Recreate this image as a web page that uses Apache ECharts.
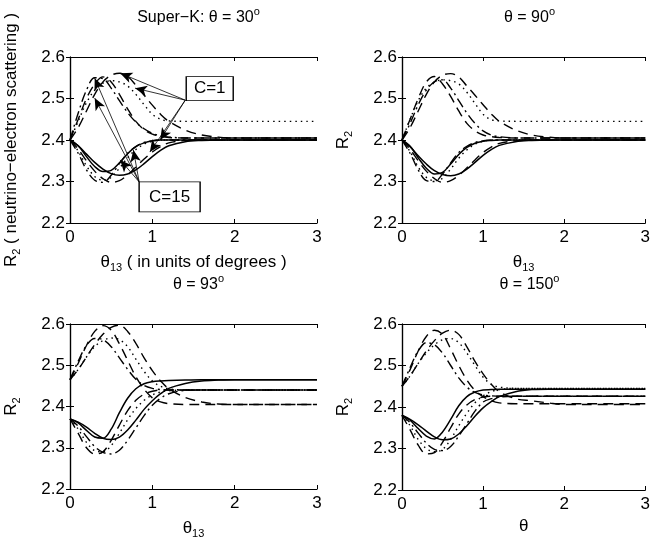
<!DOCTYPE html>
<html><head><meta charset="utf-8">
<script src="https://cdn.jsdelivr.net/npm/echarts@6/dist/echarts.min.js"></script>
<style>html,body{margin:0;padding:0;background:#fff}#c{width:653px;height:540px}</style>
</head><body><div id="c"></div>
<script>
// ---------- data ----------
const xs = [0,0.1,0.2,0.3,0.4,0.5,0.6,0.7,0.8,0.9,1.0,1.1,1.2,1.4,1.6,1.8,2.0,2.5,3.0];
const xTicks = [0,1,2,3];
const yTicks = [2.2,2.3,2.4,2.5,2.6];
const panelTitles = ['Super−K: θ = 30', 'θ = 90', 'θ = 93', 'θ = 150'];

// Panel 1: theta = 30 deg
const p1UpDash1   = [2.40,2.43,2.47,2.51,2.54,2.556,2.561,2.553,2.532,2.508,2.484,2.462,2.445,2.424,2.412,2.407,2.405,2.405,2.405];
const p1UpDash15  = [2.40,2.45,2.50,2.535,2.552,2.54,2.51,2.475,2.445,2.425,2.414,2.409,2.406,2.405,2.405,2.405,2.405,2.405,2.405];
const p1UpDashDot = [2.40,2.465,2.52,2.55,2.548,2.525,2.495,2.466,2.443,2.427,2.416,2.41,2.407,2.405,2.405,2.405,2.405,2.405,2.405];
const p1UpDot     = [2.40,2.445,2.49,2.52,2.537,2.543,2.54,2.53,2.51,2.485,2.462,2.45,2.446,2.445,2.445,2.445,2.445,2.445,2.445];
const p1LoSolid15 = [2.40,2.386,2.36,2.336,2.324,2.327,2.345,2.367,2.384,2.393,2.398,2.40,2.40,2.40,2.40,2.40,2.40,2.40,2.40];
const p1LoSolid1  = [2.40,2.386,2.366,2.346,2.33,2.319,2.315,2.318,2.328,2.343,2.36,2.375,2.386,2.396,2.399,2.40,2.40,2.40,2.40];
const p1LoDash    = [2.40,2.378,2.35,2.325,2.307,2.298,2.302,2.316,2.335,2.354,2.371,2.384,2.393,2.399,2.40,2.40,2.40,2.40,2.40];
const p1LoDashDot = [2.40,2.368,2.328,2.303,2.298,2.315,2.343,2.368,2.384,2.394,2.398,2.40,2.40,2.40,2.40,2.40,2.40,2.40,2.40];
const p1LoDot     = [2.40,2.373,2.338,2.312,2.303,2.31,2.332,2.357,2.377,2.39,2.397,2.40,2.40,2.40,2.40,2.40,2.40,2.40,2.40];

// Panel 2: theta = 90 deg
const p2UpDash1   = [2.40,2.43,2.47,2.51,2.54,2.556,2.56,2.552,2.53,2.508,2.485,2.463,2.445,2.424,2.412,2.407,2.405,2.405,2.405];
const p2UpDash15  = [2.40,2.45,2.50,2.54,2.553,2.535,2.505,2.47,2.44,2.422,2.412,2.408,2.406,2.405,2.405,2.405,2.405,2.405,2.405];
const p2UpDashDot = [2.40,2.44,2.485,2.52,2.54,2.545,2.525,2.495,2.465,2.44,2.422,2.412,2.408,2.405,2.405,2.405,2.405,2.405,2.405];
const p2UpDot     = [2.40,2.45,2.495,2.525,2.54,2.545,2.543,2.535,2.515,2.488,2.462,2.449,2.446,2.445,2.445,2.445,2.445,2.445,2.445];
const p2LoSolid15 = [2.40,2.385,2.357,2.332,2.318,2.322,2.342,2.365,2.382,2.392,2.397,2.399,2.40,2.40,2.40,2.40,2.40,2.40,2.40];
const p2LoSolid1  = [2.40,2.384,2.362,2.342,2.326,2.317,2.314,2.318,2.33,2.346,2.363,2.377,2.387,2.396,2.399,2.40,2.40,2.40,2.40];
const p2LoDash    = [2.40,2.378,2.35,2.325,2.307,2.298,2.302,2.315,2.333,2.352,2.37,2.383,2.392,2.398,2.40,2.40,2.40,2.40,2.40];
const p2LoDashDot = [2.40,2.368,2.328,2.302,2.30,2.318,2.345,2.37,2.385,2.394,2.398,2.40,2.40,2.40,2.40,2.40,2.40,2.40,2.40];
const p2LoDot     = [2.40,2.372,2.335,2.31,2.302,2.308,2.33,2.356,2.376,2.39,2.397,2.40,2.40,2.40,2.40,2.40,2.40,2.40,2.40];

// Panel 3: theta = 93 deg
const p3UpDash1   = [2.465,2.49,2.52,2.55,2.575,2.592,2.597,2.582,2.553,2.518,2.487,2.462,2.443,2.422,2.411,2.406,2.405,2.405,2.405];
const p3UpDash15  = [2.465,2.505,2.548,2.582,2.596,2.585,2.552,2.512,2.472,2.442,2.421,2.411,2.407,2.405,2.405,2.405,2.405,2.405,2.405];
const p3UpDashDot = [2.465,2.51,2.548,2.565,2.562,2.545,2.518,2.49,2.466,2.451,2.444,2.441,2.44,2.44,2.44,2.44,2.44,2.44,2.44];
const p3UpDot     = [2.465,2.49,2.52,2.545,2.56,2.566,2.562,2.545,2.515,2.485,2.462,2.449,2.443,2.44,2.44,2.44,2.44,2.44,2.44];
const p3LoSolid15 = [2.37,2.36,2.342,2.326,2.323,2.345,2.385,2.42,2.443,2.455,2.46,2.462,2.463,2.464,2.465,2.465,2.465,2.465,2.465];
const p3LoSolid1  = [2.37,2.362,2.35,2.335,2.323,2.32,2.326,2.343,2.367,2.393,2.414,2.431,2.444,2.456,2.462,2.464,2.465,2.465,2.465];
const p3LoDash    = [2.37,2.335,2.30,2.285,2.29,2.318,2.355,2.39,2.415,2.43,2.437,2.44,2.44,2.44,2.44,2.44,2.44,2.44,2.44];
const p3LoDashDot = [2.37,2.352,2.327,2.303,2.289,2.285,2.294,2.318,2.348,2.378,2.403,2.42,2.431,2.439,2.44,2.44,2.44,2.44,2.44];
const p3LoDot     = [2.37,2.345,2.313,2.293,2.29,2.305,2.335,2.368,2.395,2.415,2.428,2.435,2.438,2.44,2.44,2.44,2.44,2.44,2.44];

// Panel 4: theta = 150 deg
const p4UpDash1   = [2.45,2.475,2.505,2.535,2.56,2.578,2.585,2.575,2.545,2.51,2.48,2.455,2.437,2.42,2.415,2.41,2.406,2.406,2.406];
const p4UpDash15  = [2.45,2.49,2.535,2.57,2.585,2.575,2.54,2.50,2.465,2.44,2.425,2.415,2.41,2.408,2.408,2.408,2.408,2.408,2.408];
const p4UpDashDot = [2.45,2.495,2.535,2.555,2.55,2.53,2.50,2.47,2.448,2.435,2.429,2.427,2.426,2.426,2.426,2.426,2.426,2.426,2.426];
const p4UpDot     = [2.45,2.475,2.505,2.53,2.55,2.562,2.565,2.555,2.53,2.50,2.472,2.455,2.448,2.445,2.445,2.445,2.445,2.445,2.445];
const p4LoSolid15 = [2.38,2.368,2.348,2.33,2.323,2.34,2.37,2.403,2.425,2.436,2.441,2.442,2.443,2.443,2.443,2.443,2.443,2.443,2.443];
const p4LoSolid1  = [2.38,2.37,2.357,2.342,2.328,2.321,2.323,2.335,2.355,2.378,2.398,2.413,2.425,2.437,2.442,2.443,2.443,2.443,2.443];
const p4LoDash    = [2.38,2.345,2.308,2.287,2.29,2.315,2.35,2.383,2.405,2.418,2.424,2.426,2.426,2.426,2.426,2.426,2.426,2.426,2.426];
const p4LoDashDot = [2.38,2.362,2.337,2.313,2.298,2.295,2.305,2.33,2.36,2.39,2.412,2.42,2.424,2.426,2.426,2.426,2.426,2.426,2.426];
const p4LoDot     = [2.38,2.355,2.322,2.30,2.292,2.298,2.322,2.355,2.385,2.41,2.427,2.437,2.442,2.445,2.445,2.445,2.445,2.445,2.445];

// Annotations (panel 1), in data coordinates
const c1Origin  = [1.40, 2.496];
const c1Targets = [[0.61,2.561],[0.79,2.525],[1.095,2.40],[0.97,2.371]];
const c15Origin = [0.84, 2.299];
const c15Targets = [[0.30,2.549],[0.30,2.501],[0.61,2.352],[0.77,2.376]];
const boxLabels = ['C=1','C=15'];
const boxCenters = [[1.697,2.524],[1.21,2.263]];

// ---------- layout / style ----------
const FONT = 'Liberation Sans, Arial, Helvetica, sans-serif';
const dashTypes = {solid:'solid', dash:[10,6], dashdot:[10,4,2,4], dot:[1.5,4]};
const panels = [
  {grid:{left:70,top:57,width:247,height:166}, curves:[[p1UpDash1,'dash'],[p1UpDash15,'dash'],[p1UpDashDot,'dashdot'],[p1UpDot,'dot'],[p1LoSolid15,'solid'],[p1LoSolid1,'solid'],[p1LoDash,'dash'],[p1LoDashDot,'dashdot'],[p1LoDot,'dot']],
   yName:'{t|R}{b|2}{t| ( neutrino−electron scattering )}', xName:'{t|θ}{b|13}{t| ( in units of degrees )}'},
  {grid:{left:402,top:57,width:245,height:166}, curves:[[p2UpDash1,'dash'],[p2UpDash15,'dash'],[p2UpDashDot,'dashdot'],[p2UpDot,'dot'],[p2LoSolid15,'solid'],[p2LoSolid1,'solid'],[p2LoDash,'dash'],[p2LoDashDot,'dashdot'],[p2LoDot,'dot']],
   yName:'{t|R}{b|2}', xName:'{t|θ}{b|13}'},
  {grid:{left:70,top:324,width:247,height:166}, curves:[[p3UpDash1,'dash'],[p3UpDash15,'dash'],[p3UpDashDot,'dashdot'],[p3UpDot,'dot'],[p3LoSolid15,'solid'],[p3LoSolid1,'solid'],[p3LoDash,'dash'],[p3LoDashDot,'dashdot'],[p3LoDot,'dot']],
   yName:'{t|R}{b|2}', xName:'{t|θ}{b|13}'},
  {grid:{left:402,top:324,width:245,height:166}, curves:[[p4UpDash1,'dash'],[p4UpDash15,'dash'],[p4UpDashDot,'dashdot'],[p4UpDot,'dot'],[p4LoSolid15,'solid'],[p4LoSolid1,'solid'],[p4LoDash,'dash'],[p4LoDashDot,'dashdot'],[p4LoDot,'dot']],
   yName:'{t|R}{b|2}', xName:'{t|θ}'}
];
const rich = {
  t:{fontFamily:FONT,fontSize:17,color:'#000',fontWeight:'normal'},
  b:{fontFamily:FONT,fontSize:11,color:'#000',fontWeight:'normal',padding:[11,0,0,0]},
  h:{fontFamily:FONT,fontSize:16,color:'#000',fontWeight:'normal'},
  s:{fontFamily:FONT,fontSize:11,color:'#000',fontWeight:'normal',padding:[0,0,12,0]}
};

const grids=[], xAxes=[], yAxes=[], series=[], titles=[];
panels.forEach((p,i)=>{
  grids.push(Object.assign({show:false, containLabel:false}, p.grid));
  const axLine = {show:true, lineStyle:{color:'#000',width:1.2}};
  const tick = {show:true, inside:true, length:4, lineStyle:{color:'#000'}};
  xAxes.push({gridIndex:i, type:'value', position:'bottom', min:xTicks[0], max:xTicks[xTicks.length-1], interval:1,
    axisLine:axLine, axisTick:tick, splitLine:{show:false},
    axisLabel:{color:'#000', fontSize:17, fontFamily:FONT, margin:6},
    name:p.xName, nameLocation:'middle', nameGap:28, nameTextStyle:{rich:rich}});
  xAxes.push({gridIndex:i, type:'value', position:'top', min:xTicks[0], max:xTicks[xTicks.length-1], interval:1,
    axisLine:axLine, axisTick:tick, splitLine:{show:false}, axisLabel:{show:false}});
  yAxes.push({gridIndex:i, type:'value', position:'left', min:yTicks[0], max:yTicks[yTicks.length-1], interval:0.1,
    axisLine:axLine, axisTick:tick, splitLine:{show:false},
    axisLabel:{color:'#000', fontSize:17, fontFamily:FONT, margin:5, formatter:v=>v.toFixed(1)},
    name:p.yName, nameLocation:'middle', nameGap:48, nameRotate:90, nameTextStyle:{rich:rich}});
  yAxes.push({gridIndex:i, type:'value', position:'right', min:yTicks[0], max:yTicks[yTicks.length-1], interval:0.1,
    axisLine:axLine, axisTick:tick, splitLine:{show:false}, axisLabel:{show:false}});
  titles.push({text:'{h|'+panelTitles[i]+'}{s|o}', left:p.grid.left+p.grid.width/2, top:p.grid.top-56, textAlign:'center',
    textStyle:{fontWeight:'normal', rich:rich}});
  p.curves.forEach(([vals,ls])=>{
    series.push({type:'line', xAxisIndex:i*2, yAxisIndex:i*2, data:xs.map((x,j)=>[x,vals[j]]),
      smooth:0.35, showSymbol:false, symbol:'none', silent:true,
      lineStyle:{color:'#000', width:ls==='solid'?1.5:1.4, type:dashTypes[ls]}});
  });
});

// annotation series in panel 1
const arrowLines = [];
c1Targets.forEach(t=>arrowLines.push([{coord:c1Origin},{coord:t}]));
c15Targets.forEach(t=>arrowLines.push([{coord:c15Origin},{coord:t}]));
series.push({type:'line', xAxisIndex:0, yAxisIndex:0, data:[], silent:true, z:5,
  markLine:{silent:true, symbol:['none','arrow'], symbolSize:[8,12], label:{show:false},
    lineStyle:{color:'#000', width:0.8, type:'solid'}, emphasis:{disabled:true}, data:arrowLines},
  markPoint:{silent:true, symbol:'rect', itemStyle:{color:'#fff', borderColor:'#000', borderWidth:1},
    data:[
      {coord:boxCenters[0], symbolSize:[47,24], label:{show:true, formatter:boxLabels[0], color:'#000', fontSize:17, fontFamily:FONT}},
      {coord:boxCenters[1], symbolSize:[61,30], label:{show:true, formatter:boxLabels[1], color:'#000', fontSize:17, fontFamily:FONT}}
    ]}});

const chart = echarts.init(document.getElementById('c'), null, {renderer:'canvas'});
chart.setOption({backgroundColor:'#fff', animation:false, title:titles, grid:grids, xAxis:xAxes, yAxis:yAxes, series:series});
</script></body></html>
